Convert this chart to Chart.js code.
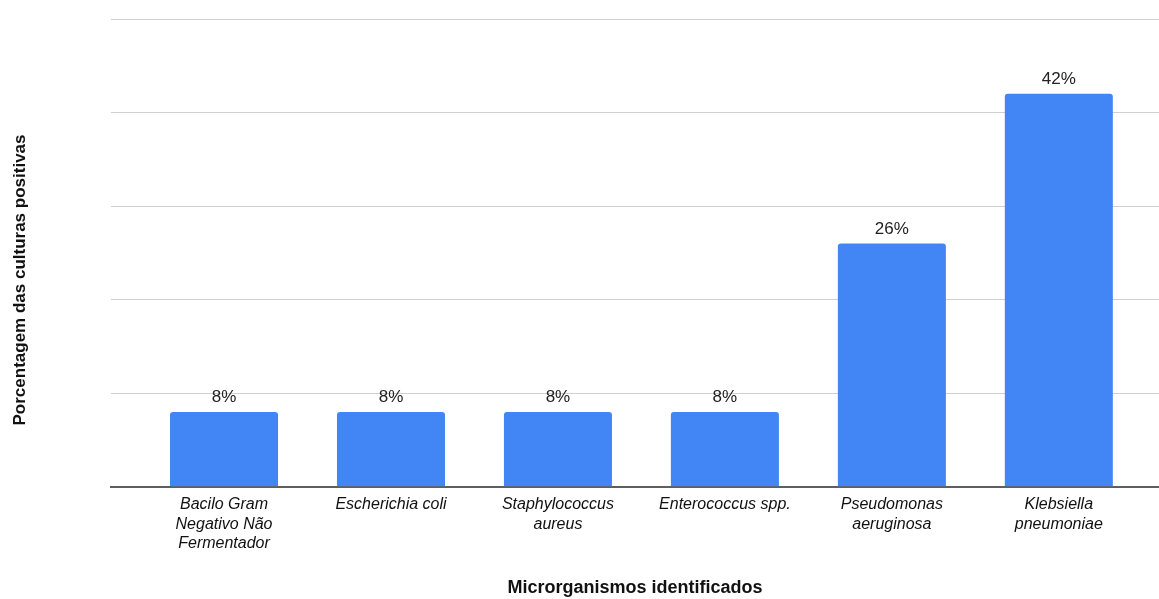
<!DOCTYPE html>
<html>
<head>
<meta charset="utf-8">
<script src="https://cdn.jsdelivr.net/npm/chart.js@4"></script>
<style>
  html, body { margin: 0; padding: 0; background: #ffffff; }
  #wrap { width: 1159px; height: 599px; }
</style>
</head>
<body>
<div id="wrap"><canvas id="micro-chart"></canvas></div>
<script>
const categories = [
    ['Bacilo Gram', 'Negativo Não', 'Fermentador'],
    ['Escherichia coli'],
    ['Staphylococcus', 'aureus'],
    ['Enterococcus spp.'],
    ['Pseudomonas', 'aeruginosa'],
    ['Klebsiella', 'pneumoniae']
];
const percentages = [8, 8, 8, 8, 26, 42];
const yTicks = [0, 10, 20, 30, 40, 50];

const fontFamily = '"Liberation Sans", Arial, sans-serif';

// value labels above each bar
const valueLabels = {
    id: 'valueLabels',
    afterDatasetsDraw(chart) {
        const ctx = chart.ctx;
        const meta = chart.getDatasetMeta(0);
        ctx.save();
        ctx.font = '17px ' + fontFamily;
        ctx.fillStyle = '#222222';
        ctx.textAlign = 'center';
        ctx.textBaseline = 'bottom';
        meta.data.forEach(function(bar, i) {
            ctx.fillText(percentages[i] + '%', bar.x, bar.y - 6);
        });
        ctx.restore();
    }
};

// vertical axis title, drawn on the left margin
const yTitle = {
    id: 'yTitle',
    afterDraw(chart) {
        const ctx = chart.ctx;
        const area = chart.chartArea;
        ctx.save();
        ctx.translate(20, area.top + 261);
        ctx.rotate(-Math.PI / 2);
        ctx.font = 'bold 17px ' + fontFamily;
        ctx.fillStyle = '#111111';
        ctx.textAlign = 'center';
        ctx.textBaseline = 'middle';
        ctx.fillText('Porcentagem das culturas positivas', 0, 0);
        ctx.restore();
    }
};

const ctx = document.getElementById('micro-chart');
new Chart(ctx, {
    type: 'bar',
    data: {
        datasets: [{
            data: percentages.map((v, i) => ({ x: i, y: v })),
            backgroundColor: '#4285f4',
            borderRadius: { topLeft: 3, topRight: 3, bottomLeft: 0, bottomRight: 0 },
            borderSkipped: 'bottom',
            categoryPercentage: 1,
            barPercentage: 0.647
        }]
    },
    options: {
        responsive: true,
        maintainAspectRatio: false,
        animation: false,
        layout: {
            padding: { left: 111, top: 19, right: 0, bottom: 0 }
        },
        scales: {
            x: {
                type: 'linear',
                offset: false,
                min: -0.677,
                max: 5.6,
                grid: { display: false },
                border: { display: true, color: '#5f5f5f', width: 2 },
                afterBuildTicks: function(scale) {
                    scale.ticks = categories.map((c, i) => ({ value: i }));
                },
                ticks: {
                    autoSkip: false,
                    maxRotation: 0,
                    padding: 0,
                    color: '#111111',
                    font: { family: fontFamily, size: 16, style: 'italic', lineHeight: 1.22 },
                    callback: function(value) {
                        return categories[value];
                    }
                },
                title: {
                    display: true,
                    text: 'Microrganismos identificados',
                    color: '#111111',
                    font: { family: fontFamily, size: 18, weight: 'bold' },
                    padding: { top: 24, bottom: 0 }
                }
            },
            y: {
                min: yTicks[0],
                max: yTicks[yTicks.length - 1],
                afterBuildTicks: function(scale) {
                    scale.ticks = yTicks.map(v => ({ value: v }));
                },
                grid: { color: '#d0d0d0', lineWidth: 1, drawTicks: false },
                border: { display: false },
                ticks: { display: false }
            }
        },
        plugins: {
            legend: { display: false },
            tooltip: { enabled: false }
        }
    },
    plugins: [valueLabels, yTitle]
});
</script>
</body>
</html>
